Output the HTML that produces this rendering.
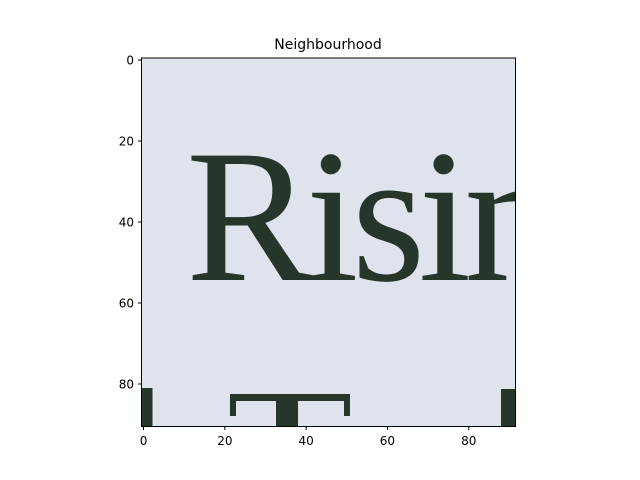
<!DOCTYPE html>
<html><head><meta charset="utf-8"><style>
html,body{margin:0;background:#fff;width:640px;height:480px;overflow:hidden;}
svg{display:block;font-family:"DejaVu Sans","Liberation Sans",sans-serif;}
</style></head><body>
<svg width="640" height="480" viewBox="0 0 640 480" overflow="hidden">
<text x="328" y="49" font-size="14" text-anchor="middle">Neighbourhood</text>
<svg x="141.5" y="58" width="374" height="368.5" viewBox="141.5 58 374 368.5" overflow="hidden">
<rect x="141.5" y="58" width="374" height="368.5" fill="#dfe3ec"/>
<text x="186" y="280" font-family="Liberation Serif, serif" font-size="190" letter-spacing="-7" fill="#26362a">Risin</text>
<g fill="#26362a">
<rect x="230" y="394" width="120" height="7"/>
<rect x="230" y="394" width="6" height="22"/>
<rect x="344" y="394" width="6" height="22"/>
<rect x="276" y="398" width="22" height="28.5"/>
</g>
<rect x="141.5" y="388" width="11" height="38.5" fill="#26362a"/>
<rect x="501" y="389" width="15" height="37.5" fill="#26362a"/>
</svg>
<rect x="141.5" y="58" width="374" height="368.5" fill="none" stroke="#000" stroke-width="1"/>
<g id="ticks"></g>
<script>
const xTicks=[0,20,40,60,80];
const yTicks=[0,20,40,60,80];
const x0=141.5,y0=58,scale=374/92;
const g=document.getElementById('ticks');
const NS='http://www.w3.org/2000/svg';
function X(v){return x0+(v+0.5)*scale;}
function Y(v){return y0+(v+0.5)*(368.5/91);}
xTicks.forEach(v=>{
  const l=document.createElementNS(NS,'line');
  l.setAttribute('x1',X(v));l.setAttribute('x2',X(v));l.setAttribute('y1',426.5);l.setAttribute('y2',430);l.setAttribute('stroke','#000');
  
  
  g.appendChild(l);
  const t=document.createElementNS(NS,'text');
  t.setAttribute('x',X(v));t.setAttribute('y',445);t.setAttribute('font-size','12');t.setAttribute('text-anchor','middle');
  t.textContent=v;
  
  
  g.appendChild(t);
});
yTicks.forEach(v=>{
  const l=document.createElementNS(NS,'line');
  l.setAttribute('x1',138);l.setAttribute('x2',141.5);l.setAttribute('y1',Y(v));l.setAttribute('y2',Y(v));l.setAttribute('stroke','#000');
  
  
  g.appendChild(l);
  const t=document.createElementNS(NS,'text');
  t.setAttribute('x',134);t.setAttribute('y',Y(v)+4.5);t.setAttribute('font-size','12');t.setAttribute('text-anchor','end');
  t.textContent=v;
  
  
  g.appendChild(t);
});
</script>
</svg>
</body></html>
